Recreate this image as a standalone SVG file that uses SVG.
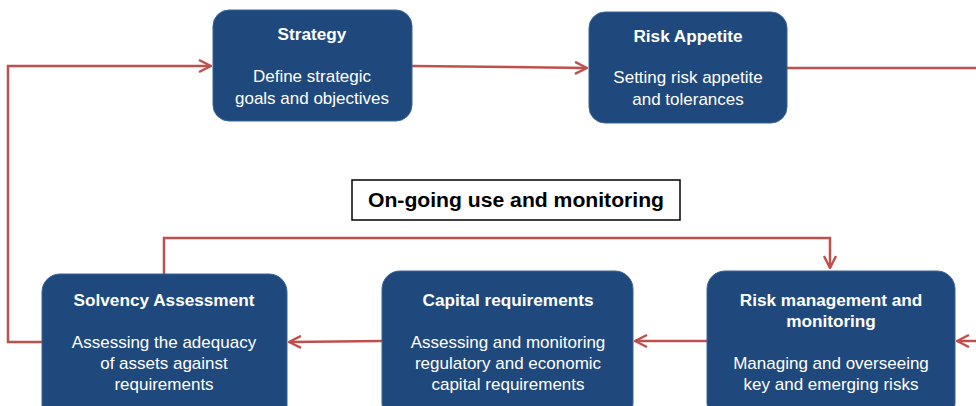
<svg xmlns="http://www.w3.org/2000/svg" width="976" height="406" viewBox="0 0 976 406">
<defs>
<marker id="arr" viewBox="0 0 14 14" refX="13" refY="7" markerWidth="14" markerHeight="14" markerUnits="userSpaceOnUse" orient="auto">
<path d="M1,1 L13,7 L1,13" fill="none" stroke="#C0504D" stroke-width="2.4"/>
</marker>
<style>
.box{fill:#1F497D;stroke:#3A6396;stroke-width:1}
.t{font-family:"Liberation Sans",Arial,sans-serif;font-weight:bold;font-size:17.2px;fill:#fff;text-anchor:middle}
.d{font-family:"Liberation Sans",Arial,sans-serif;font-size:17px;fill:#fff;text-anchor:middle}
.c{fill:none;stroke:#C0504D;stroke-width:2.5}
</style>
</defs>
<rect width="976" height="406" fill="#fff"/>
<g id="connectors">
<path class="c" d="M42,342 H8 V66 H211" marker-end="url(#arr)"/>
<path class="c" d="M412,66 L587,68" marker-end="url(#arr)"/>
<path class="c" d="M787,68 H976"/>
<path class="c" d="M164,274 V238 H830 V268" marker-end="url(#arr)"/>
<path class="c" d="M382,341 L289,342" marker-end="url(#arr)"/>
<path class="c" d="M707,341 H635" marker-end="url(#arr)"/>
<path class="c" d="M976,341 H957" marker-end="url(#arr)"/>
</g>
<g id="strategy">
<rect class="box" x="213" y="10" width="199" height="111" rx="16"/>
<text class="t" x="312" y="40">Strategy</text>
<text class="d" x="312" y="82">Define strategic</text>
<text class="d" x="312" y="104">goals and objectives</text>
</g>
<g id="risk-appetite">
<rect class="box" x="589" y="12" width="198" height="111" rx="16"/>
<text class="t" x="688" y="42">Risk Appetite</text>
<text class="d" x="688" y="83">Setting risk appetite</text>
<text class="d" x="688" y="105">and tolerances</text>
</g>
<g id="ongoing">
<rect x="352" y="180" width="328" height="40" fill="#fff" stroke="#000" stroke-width="1.5"/>
<text x="516" y="207" font-family="'Liberation Sans',Arial,sans-serif" font-weight="bold" font-size="20" fill="#000" text-anchor="middle" textLength="296" lengthAdjust="spacingAndGlyphs">On-going use and monitoring</text>
</g>
<g id="solvency">
<rect class="box" x="42" y="274" width="245" height="150" rx="18"/>
<text class="t" x="164" y="306">Solvency Assessment</text>
<text class="d" x="164" y="348">Assessing the adequacy</text>
<text class="d" x="164" y="369">of assets against</text>
<text class="d" x="164" y="390">requirements</text>
</g>
<g id="capital">
<rect class="box" x="382" y="271" width="251" height="150" rx="18"/>
<text class="t" x="508" y="306">Capital requirements</text>
<text class="d" x="508" y="348">Assessing and monitoring</text>
<text class="d" x="508" y="369">regulatory and economic</text>
<text class="d" x="508" y="390">capital requirements</text>
</g>
<g id="risk-management">
<rect class="box" x="707" y="271" width="248" height="150" rx="18"/>
<text class="t" x="831" y="306">Risk management and</text>
<text class="t" x="831" y="327">monitoring</text>
<text class="d" x="831" y="369">Managing and overseeing</text>
<text class="d" x="831" y="390">key and emerging risks</text>
</g>
</svg>
